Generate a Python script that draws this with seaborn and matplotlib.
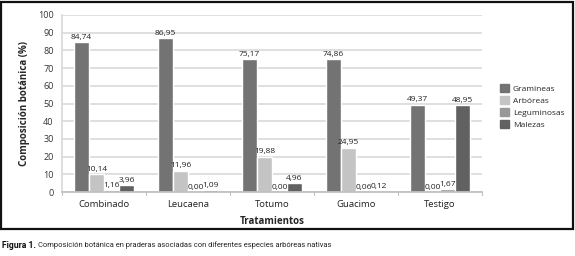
import pandas as pd
import numpy as np
import matplotlib.pyplot as plt
import seaborn as sns
from matplotlib.patches import Rectangle

# =========================================================
# Données
# =========================================================
tratamientos = ["Combinado", "Leucaena", "Totumo", "Guacimo", "Testigo"]
componentes = ["Gramineas", "Arbóreas", "Leguminosas", "Malezas"]

gramineas = [84.74, 86.95, 75.17, 74.86, 49.37]
arboreas = [10.14, 11.96, 19.88, 24.95, 0.00]
leguminosas = [1.16, 0.00, 0.00, 0.06, 1.67]
malezas = [3.96, 1.09, 4.96, 0.12, 48.95]

colores = ["#737373", "#c4c4c4", "#989898", "#616161"]

df = pd.DataFrame({
    "Tratamiento": tratamientos * 4,
    "Componente": np.repeat(componentes, len(tratamientos)),
    "Valor": gramineas + arboreas + leguminosas + malezas,
})

# =========================================================
# Figure
# =========================================================
sns.set_theme(style="white")
plt.rcParams["font.family"] = ["Open Sans", "DejaVu Sans"]

fig = plt.figure(figsize=(5.75, 2.56), dpi=100)
ax = fig.add_axes([62 / 575, 1 - 192 / 256, 420 / 575, 177 / 256])

sns.barplot(
    data=df, x="Tratamiento", y="Valor", hue="Componente",
    hue_order=componentes, order=tratamientos, palette=colores,
    width=0.715, saturation=1, ax=ax, legend=False,
)

for cont in ax.containers:
    vals = [b.get_height() for b in cont]
    ax.bar_label(cont, labels=[f"{v:.2f}".replace(".", ",") for v in vals],
                 fontsize=6.0, padding=1, color="#222222")

ax.set_ylim(0, 100)
ax.set_yticks(range(0, 101, 10))
ax.set_xlim(-0.5, len(tratamientos) - 0.5)
ax.yaxis.grid(True, color="#d9d9d9", linewidth=1.2)
ax.set_axisbelow(True)
ax.tick_params(axis="y", labelsize=6.5, colors="#333333", length=0, pad=6)
ax.tick_params(axis="x", labelsize=6.8, colors="#222222", length=0, pad=6)
for s in ["top", "right"]:
    ax.spines[s].set_visible(False)
ax.spines["left"].set_color("#d9d9d9")
ax.spines["bottom"].set_color("#bfbfbf")

# petites graduations entre les groupes
for xt in np.arange(-0.5, len(tratamientos), 1):
    ax.plot([xt, xt], [0, -1.8], color="#bfbfbf", lw=0.8, clip_on=False)

ax.set_xlabel("Tratamientos", fontsize=7, fontweight="bold", labelpad=5)
ax.set_ylabel("Composición botánica (%)", fontsize=7, fontweight="bold", labelpad=6)

# légende
handles = [Rectangle((0, 0), 1, 1, color=c) for c in colores]
fig.legend(handles, componentes, loc="upper left",
           bbox_to_anchor=(497 / 575, 1 - 81 / 256), frameon=False,
           fontsize=6.0, handlelength=1.0, handleheight=1.0,
           handletextpad=0.5, labelspacing=0.4, borderaxespad=0)

# cadre autour du graphique
fig.add_artist(Rectangle((1 / 575, 1 - 229 / 256), 572 / 575, 227 / 256,
                         transform=fig.transFigure, fill=False,
                         edgecolor="#111111", linewidth=1.6))

# légende de figure
fam = ["Roboto", "DejaVu Sans"]
t1 = fig.text(2 / 575, 1 - 245 / 256, "Figura 1.", fontsize=6.2,
              fontweight="bold", family=fam, va="center", color="#111111")
fig.canvas.draw()
bb = t1.get_window_extent()
fig.text(bb.x1 / fig.bbox.width + 2 / 575, 1 - 245 / 256,
         "Composición botánica en praderas asociadas con diferentes especies arbóreas nativas",
         fontsize=5.4, family=fam, va="center", color="#222222")

fig.savefig("out.png", dpi=100)
